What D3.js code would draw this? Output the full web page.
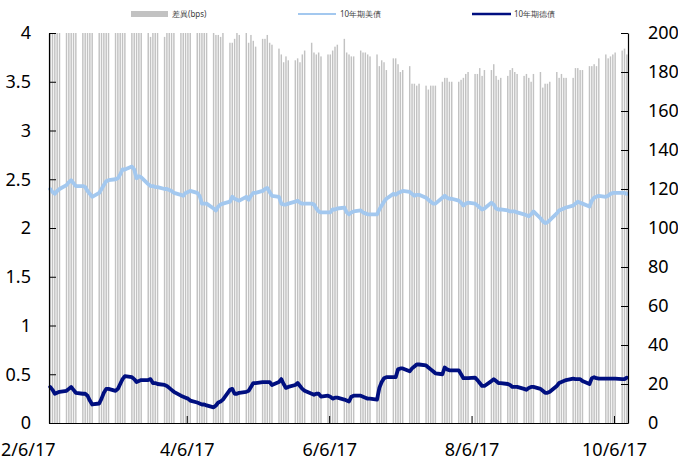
<!DOCTYPE html>
<html><head><meta charset="utf-8">
<script src="https://cdn.jsdelivr.net/npm/d3@7"></script>
<style>body{margin:0;background:#fff}svg{display:block;font-family:"Noto Sans",sans-serif}</style>
</head><body><svg id="c" width="678" height="461"></svg>
<script>
// Business days from startDate to endDate (weekdays)
const startDate = "2017-02-06";
const endDate = "2017-10-11";

const us10y = [
 2.40,2.37,2.35,2.38,2.40, 2.44,2.47,2.49,2.46,2.43, 2.43,2.42,2.38,2.35,2.32, 2.36,2.40,2.44,2.48,2.49,
 2.50,2.51,2.55,2.60,2.60, 2.63,2.60,2.51,2.53,2.52, 2.45,2.43,2.43,2.42,2.42, 2.40,2.40,2.39,2.38,2.36,
 2.34,2.33,2.36,2.37,2.38, 2.36,2.33,2.25,2.25,2.25, 2.20,2.18,2.22,2.24,2.25, 2.27,2.32,2.30,2.29,2.28,
 2.32,2.29,2.33,2.36,2.36, 2.38,2.40,2.41,2.37,2.33, 2.32,2.25,2.24,2.24,2.25, 2.27,2.28,2.26,2.25,2.25,
 2.25,2.24,2.20,2.17,2.16, 2.16,2.16,2.19,2.19,2.20, 2.21,2.16,2.14,2.16,2.17, 2.18,2.16,2.15,2.14,2.14,
 2.14,2.19,2.23,2.27,2.30, 2.35,2.34,2.36,2.37,2.38, 2.37,2.35,2.33,2.34,2.34, 2.31,2.29,2.27,2.25,2.25,
 2.31,2.33,2.31,2.30,2.30, 2.28,2.26,2.23,2.25,2.26, 2.25,2.23,2.21,2.19,2.20, 2.26,2.24,2.20,2.19,2.19,
 2.18,2.17,2.17,2.17,2.16, 2.14,2.13,2.12,2.14,2.17, 2.10,2.07,2.05,2.06,2.08, 2.15,2.18,2.19,2.20,2.21,
 2.23,2.25,2.27,2.26,2.25, 2.22,2.28,2.31,2.32,2.33, 2.32,2.33,2.35,2.36,2.36, 2.36,2.36,2.35
];

const de10y = [
 0.37,0.34,0.30,0.31,0.32, 0.33,0.35,0.37,0.34,0.31, 0.30,0.30,0.28,0.23,0.19, 0.20,0.25,0.31,0.35,0.35,
 0.33,0.35,0.40,0.45,0.48, 0.47,0.45,0.42,0.43,0.44, 0.44,0.45,0.41,0.41,0.40, 0.39,0.38,0.36,0.34,0.32,
 0.28,0.27,0.26,0.25,0.23, 0.21,0.20,0.19,0.19,0.18, 0.16,0.18,0.21,0.22,0.24, 0.34,0.35,0.30,0.30,0.31,
 0.32,0.33,0.37,0.41,0.41, 0.42,0.42,0.42,0.42,0.39, 0.42,0.45,0.40,0.36,0.37, 0.39,0.41,0.38,0.35,0.33,
 0.30,0.29,0.30,0.30,0.27, 0.28,0.27,0.25,0.26,0.26, 0.24,0.23,0.22,0.27,0.28, 0.28,0.27,0.26,0.25,0.25,
 0.24,0.36,0.42,0.46,0.47, 0.47,0.47,0.55,0.56,0.56, 0.53,0.56,0.58,0.60,0.60, 0.59,0.57,0.55,0.53,0.51,
 0.50,0.57,0.55,0.54,0.54, 0.54,0.50,0.46,0.46,0.46, 0.465,0.44,0.41,0.38,0.38, 0.43,0.45,0.43,0.41,0.41,
 0.40,0.39,0.37,0.37,0.37, 0.35,0.34,0.36,0.37,0.37, 0.35,0.33,0.31,0.31,0.32, 0.38,0.41,0.42,0.43,0.44,
 0.455,0.45,0.45,0.45,0.43, 0.40,0.46,0.47,0.46,0.455, 0.455,0.455,0.455,0.455,0.455, 0.45,0.45,0.465
];

const spreadBps = [
 203,203,205,207,208, 211,212,212,212,212, 213,212,210,212,213, 216,215,213,213,214,
 217,216,215,215,212, 216,215,209,210,208, 201,198,202,201,202, 198,202,203,204,204,
 206,206,210,212,215, 215,213,206,206,207, 200,199,199,198,201, 195,195,197,200,199,
 200,195,199,196,193, 197,197,199,195,194, 192,189,185,188,186, 186,187,185,189,191,
 195,190,189,190,188, 189,189,191,193,194, 197,190,189,188,188, 191,190,190,189,188,
 189,183,186,185,181, 187,187,184,180,181, 183,174,174,173,174, 173,171,173,173,173,
 175,177,177,175,175, 175,176,177,179,180, 179,179,182,178,181, 181,184,178,176,177,
 178,181,182,180,179, 178,179,177,175,179, 180,172,174,174,175, 180,177,179,177,177,
 177,182,182,181,181, 183,183,184,183,187, 189,187,188,189,190, 191,192,189
];

const xTickDates = ["2017-02-06","2017-04-06","2017-06-06","2017-08-06","2017-10-06"];
const xTickLabels = ["2/6/17","4/6/17","6/6/17","8/6/17","10/6/17"];
const leftTicks = [0,0.5,1,1.5,2,2.5,3,3.5,4];
const rightTicks = [0,20,40,60,80,100,120,140,160,180,200];
const legendLabels = ["差異(bps)","10年期美債","10年期德債"];
const colors = {bar:"#c2c2c2", us:"#a3c8ef", de:"#000f80"};

const parse = d3.utcParse("%Y-%m-%d");
const d0 = parse(startDate), d1 = d3.utcDay.offset(parse(endDate), 1);
const days = d3.utcDay.range(d0, d1).filter(d => d.getUTCDay() % 6 !== 0);

const L = 49, R = 628, T = 33, B = 423;
const svg = d3.select("#c");
const x = d3.scaleUtc().domain([d0, d1]).range([L, R]);
const yL = d3.scaleLinear().domain([0, 4]).range([B, T]);
const yR = d3.scaleLinear().domain([0, 200]).range([B, T]);
const cx = d => x(d3.utcHour.offset(d, 12));
const dayW = x(d3.utcDay.offset(d0, 1)) - x(d0);

svg.append("clipPath").attr("id", "clip").append("rect")
  .attr("x", L).attr("y", T).attr("width", R - L).attr("height", B - T);

// bars
const bw = dayW * 0.62;
svg.append("g").attr("clip-path", "url(#clip)")
  .selectAll("rect").data(days).join("rect")
  .attr("x", (d) => cx(d) - bw / 2)
  .attr("width", bw)
  .attr("y", (d, i) => yR(spreadBps[i]))
  .attr("height", (d, i) => yR(0) - yR(spreadBps[i]))
  .attr("fill", colors.bar);

// lines
const mk = arr => d3.line().x((d) => cx(d)).y((d, i) => yL(arr[i]));
svg.append("path").datum(days).attr("d", mk(us10y))
  .attr("fill", "none").attr("stroke", colors.us).attr("stroke-width", 3.8)
  .attr("stroke-linejoin", "round").attr("stroke-linecap", "round");
svg.append("path").datum(days).attr("d", mk(de10y))
  .attr("fill", "none").attr("stroke", colors.de).attr("stroke-width", 3.8)
  .attr("stroke-linejoin", "round").attr("stroke-linecap", "round");

// axes
function style(g) {
  g.selectAll(".domain").attr("stroke", "#000").attr("stroke-width", 1.2);
  g.selectAll(".tick line").attr("stroke", "#000");
  g.selectAll("text").attr("font-size", 18).attr("fill", "#000")
    .attr("font-family", '"Noto Sans", sans-serif');
}
svg.append("g").attr("transform", `translate(${L},0)`)
  .call(d3.axisLeft(yL).tickValues(leftTicks).tickSize(-7).tickSizeOuter(0).tickPadding(18).tickFormat(d3.format("")))
  .call(style);
svg.append("g").attr("transform", `translate(${R},0)`)
  .call(d3.axisRight(yR).tickValues(rightTicks).tickSize(-7).tickSizeOuter(0).tickPadding(20))
  .call(style);
const gx = svg.append("g").attr("transform", `translate(0,${B})`)
  .call(d3.axisBottom(x).tickValues(xTickDates.map(parse)).tickSize(-7).tickSizeOuter(0).tickPadding(20)
    .tickFormat((d, i) => xTickLabels[i]))
  .call(style);
gx.selectAll(".tick text").filter((d, i) => i === 0)
  .attr("text-anchor", "start").attr("x", -L + 0.5);

// legend
const lg = svg.append("g").attr("font-size", 8).attr("fill", "#404040");
lg.append("rect").attr("x", 131).attr("y", 11).attr("width", 37).attr("height", 6).attr("fill", colors.bar);
lg.append("text").attr("x", 172).attr("y", 17).text(legendLabels[0]);
lg.append("line").attr("x1", 298).attr("x2", 336).attr("y1", 14).attr("y2", 14)
  .attr("stroke", colors.us).attr("stroke-width", 2.2);
lg.append("text").attr("x", 340).attr("y", 17).text(legendLabels[1]);
lg.append("line").attr("x1", 472).attr("x2", 511).attr("y1", 14).attr("y2", 14)
  .attr("stroke", colors.de).attr("stroke-width", 2.5);
lg.append("text").attr("x", 514).attr("y", 17).text(legendLabels[2]);
</script></body></html>
